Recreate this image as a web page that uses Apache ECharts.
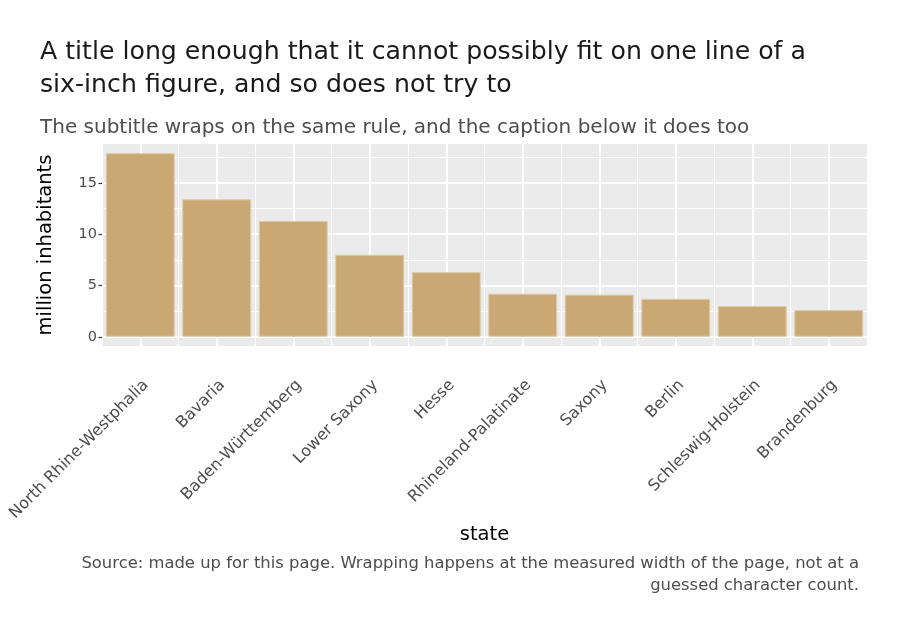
<!DOCTYPE html>
<html>
<head>
<meta charset="utf-8">
<script src="https://cdn.jsdelivr.net/npm/echarts@6/dist/echarts.min.js"></script>
<style>
  html, body { margin: 0; padding: 0; background: #fff; }
  #chart { width: 900px; height: 630px; }
</style>
</head>
<body>
<div id="chart"></div>
<script>
// data
const states = ['North Rhine-Westphalia', 'Bavaria', 'Baden-Württemberg', 'Lower Saxony', 'Hesse',
  'Rhineland-Palatinate', 'Saxony', 'Berlin', 'Schleswig-Holstein', 'Brandenburg'];
const inhabitants = [17.9, 13.4, 11.3, 8.0, 6.3, 4.2, 4.1, 3.7, 3.0, 2.6];
const majorTicks = [0, 5, 10, 15];
const minorTicks = [2.5, 7.5, 12.5, 17.5];
const categoryCenters = [1, 2, 3, 4, 5, 6, 7, 8, 9, 10];

const titleLines = ['A title long enough that it cannot possibly fit on one line of a',
  'six-inch figure, and so does not try to'];
const subtitle = 'The subtitle wraps on the same rule, and the caption below it does too';
const captionLines = ['Source: made up for this page. Wrapping happens at the measured width of the page, not at a',
  'guessed character count.'];

const FONT = '"DejaVu Sans", "Liberation Sans", sans-serif';

const chart = echarts.init(document.getElementById('chart'));

let option = {
  backgroundColor: '#ffffff',
  animation: false,
  textStyle: {fontFamily: FONT},
  title: [
    {
      text: titleLines.join('\n'),
      left: 35,
      top: 31,
      textStyle: {fontFamily: FONT, fontSize: 25.2, fontWeight: 'normal', color: '#1a1a1a', lineHeight: 33}
    },
    {
      text: subtitle,
      left: 35,
      top: 111,
      textStyle: {fontFamily: FONT, fontSize: 20, fontWeight: 'normal', color: '#4d4d4d', lineHeight: 24}
    },
    {
      text: captionLines[0],
      right: 36,
      top: 548,
      textStyle: {fontFamily: FONT, fontSize: 16.4, fontWeight: 'normal', color: '#4d4d4d', lineHeight: 22}
    },
    {
      text: captionLines[1],
      right: 36,
      top: 570,
      textStyle: {fontFamily: FONT, fontSize: 16.4, fontWeight: 'normal', color: '#4d4d4d', lineHeight: 22}
    }
  ],
  grid: {
    left: 102,
    right: 33,
    top: 144,
    bottom: 284,
    show: true,
    backgroundColor: '#ebebeb',
    borderWidth: 0
  },
  xAxis: [
    {
      type: 'category',
      data: states,
      boundaryGap: true,
      name: 'state',
      nameLocation: 'middle',
      nameGap: 176,
      nameTextStyle: {fontFamily: FONT, fontSize: 19.5, color: '#000'},
      axisLine: {show: false},
      axisTick: {show: true, alignWithLabel: true, inside: true, length: 9, lineStyle: {color: '#333', width: 1.2}},
      axisLabel: {
        interval: 0,
        rotate: 45,
        margin: 31,
        align: 'right',
        verticalAlign: 'top',
        fontFamily: FONT,
        fontSize: 16,
        color: '#4d4d4d'
      },
      splitLine: {show: true, lineStyle: {color: '#ffffff', width: 1}}
    },
    {
      // major vertical grid at category centres
      type: 'value',
      min: 0.5,
      max: 10.5,
      position: 'bottom',
      axisLine: {show: false},
      axisLabel: {show: false},
      axisTick: {show: false, customValues: categoryCenters},
      splitLine: {show: true, lineStyle: {color: '#ffffff', width: 2}}
    }
  ],
  yAxis: [
    {
      type: 'value',
      min: -0.9,
      max: 18.8,
      name: 'million inhabitants',
      nameLocation: 'middle',
      nameGap: 46,
      nameTextStyle: {fontFamily: FONT, fontSize: 19.5, color: '#000'},
      axisLine: {show: false},
      axisTick: {show: true, length: 3.5, customValues: majorTicks, lineStyle: {color: '#333', width: 1.2}},
      axisLabel: {customValues: majorTicks, margin: 5, fontFamily: FONT, fontSize: 14.5, color: '#4d4d4d'},
      splitLine: {show: true, lineStyle: {color: '#ffffff', width: 2}}
    },
    {
      // minor horizontal grid
      type: 'value',
      min: -0.9,
      max: 18.8,
      position: 'left',
      axisLine: {show: false},
      axisLabel: {show: false},
      axisTick: {show: false, customValues: minorTicks},
      splitLine: {show: true, lineStyle: {color: '#ffffff', width: 1}}
    }
  ],
  series: [
    {
      type: 'bar',
      xAxisIndex: 0,
      yAxisIndex: 0,
      data: inhabitants,
      barCategoryGap: '10%',
      itemStyle: {color: '#c9a874', borderColor: '#dccaa6', borderWidth: 1}
    }
  ]
};

chart.setOption(option);
</script>
</body>
</html>
